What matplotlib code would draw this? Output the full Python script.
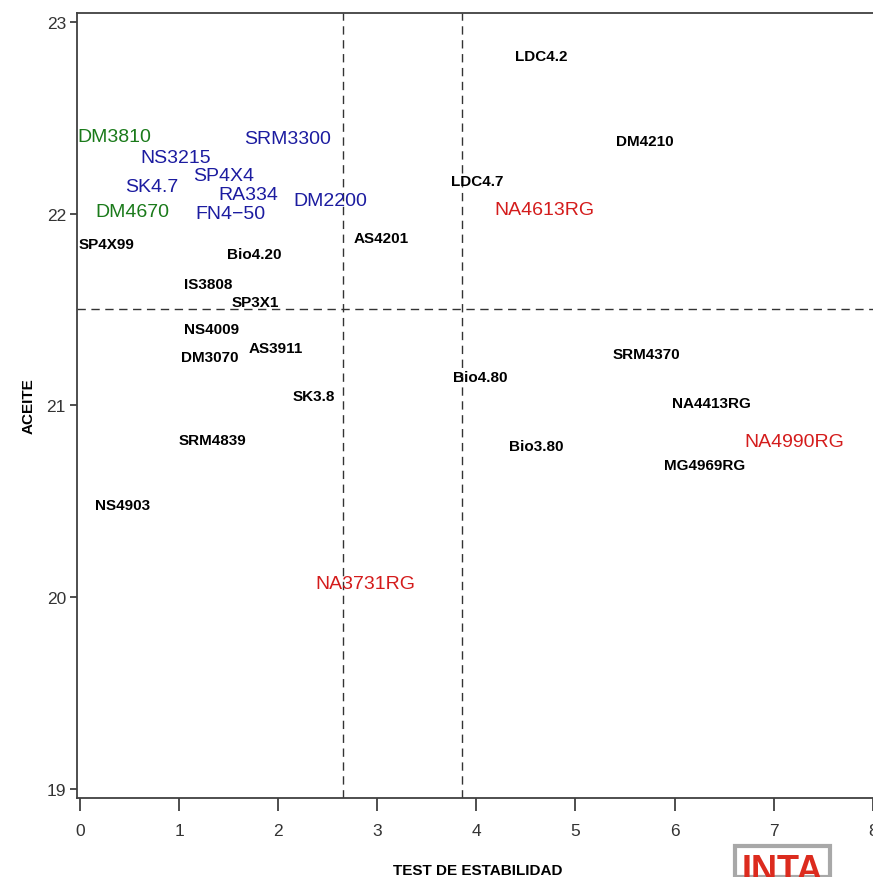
import matplotlib.pyplot as plt
from matplotlib.patches import Rectangle

# label positions (text centres)
names = ["LDC4.2", "DM4210", "LDC4.7", "NA4613RG", "DM3810", "SRM3300", "NS3215",
         "SP4X4", "SK4.7", "RA334", "DM2200", "DM4670", "FN4\u221250", "SP4X99",
         "Bio4.20", "AS4201", "IS3808", "SP3X1", "NS4009", "AS3911", "DM3070",
         "SK3.8", "SRM4839", "NS4903", "SRM4370", "Bio4.80", "NA4413RG", "Bio3.80",
         "NA4990RG", "MG4969RG", "NA3731RG"]
estabilidad = [4.65, 5.70, 4.01, 4.69, 0.35, 2.09, 0.97,
               1.45, 0.72, 1.70, 2.53, 0.53, 1.52, 0.27,
               1.76, 3.04, 1.29, 1.77, 1.33, 1.98, 1.31,
               2.36, 1.34, 0.43, 5.72, 4.04, 6.37, 4.60,
               7.21, 6.30, 2.88]
aceite = [22.82, 22.38, 22.17, 22.02, 22.40, 22.39, 22.29,
          22.20, 22.14, 22.10, 22.07, 22.01, 22.00, 21.84,
          21.79, 21.87, 21.63, 21.54, 21.40, 21.30, 21.25,
          21.05, 20.82, 20.48, 21.27, 21.15, 21.01, 20.79,
          20.81, 20.69, 20.07]
grupo = ["k", "k", "k", "r", "g", "b", "b",
         "b", "b", "b", "b", "g", "b", "k",
         "k", "k", "k", "k", "k", "k", "k",
         "k", "k", "k", "k", "k", "k", "k",
         "r", "k", "r"]

media_x = [2.65, 3.855]
media_y = 21.5

colores = {"k": "black", "r": "#d41c1c", "g": "#1a7a1a", "b": "#1c1ca0"}

plt.rcParams['font.family'] = ['Liberation Sans', 'DejaVu Sans']

fig = plt.figure(figsize=(8.73, 8.78), dpi=100)
ax = fig.add_axes([0.0882, 0.09, 0.9172, 0.894])

for n, x, y, g in zip(names, estabilidad, aceite, grupo):
    if g == "k":
        ax.text(x, y, n, ha='center', va='center', fontsize=11, fontweight='bold', color='black')
    else:
        ax.text(x, y, n, ha='center', va='center', fontsize=14, color=colores[g])

for xv in media_x:
    ax.axvline(xv, color='#333333', lw=1.0, ls=(0, (6, 4)))
ax.axhline(media_y, color='#333333', lw=1.0, ls=(0, (6, 4)))

ax.set_xlim(-0.03, 8.05)
ax.set_ylim(18.953, 23.045)
ax.set_xticks(range(0, 9))
ax.set_yticks([19, 20, 21, 22, 23])

for s in ax.spines.values():
    s.set_color('#404040')
    s.set_linewidth(1.3)
ax.spines['right'].set_visible(False)

ax.tick_params(axis='x', length=9, width=1.3, color='#404040', labelsize=12.5,
               labelcolor='#333333', pad=9)
ax.tick_params(axis='y', length=5, width=1.3, color='#404040', labelsize=12.5,
               labelcolor='#333333', pad=3)

ax.set_xlabel("TEST DE ESTABILIDAD", fontsize=11, fontweight='bold', labelpad=18)
ax.set_ylabel("ACEITE", fontsize=11, fontweight='bold', labelpad=8)

# INTA logo, bottom right (cut by the image edge)
fig.patches.append(Rectangle((735 / 873, 0), 95 / 873, 31 / 878, transform=fig.transFigure,
                             facecolor='white', edgecolor='#a8a8a8', lw=3))
fig.text(782 / 873, 24 / 878, "INTA", ha='center', va='top', fontsize=26,
         fontweight='bold', color='#dc2b1e')

fig.savefig("out.png", dpi=100)
